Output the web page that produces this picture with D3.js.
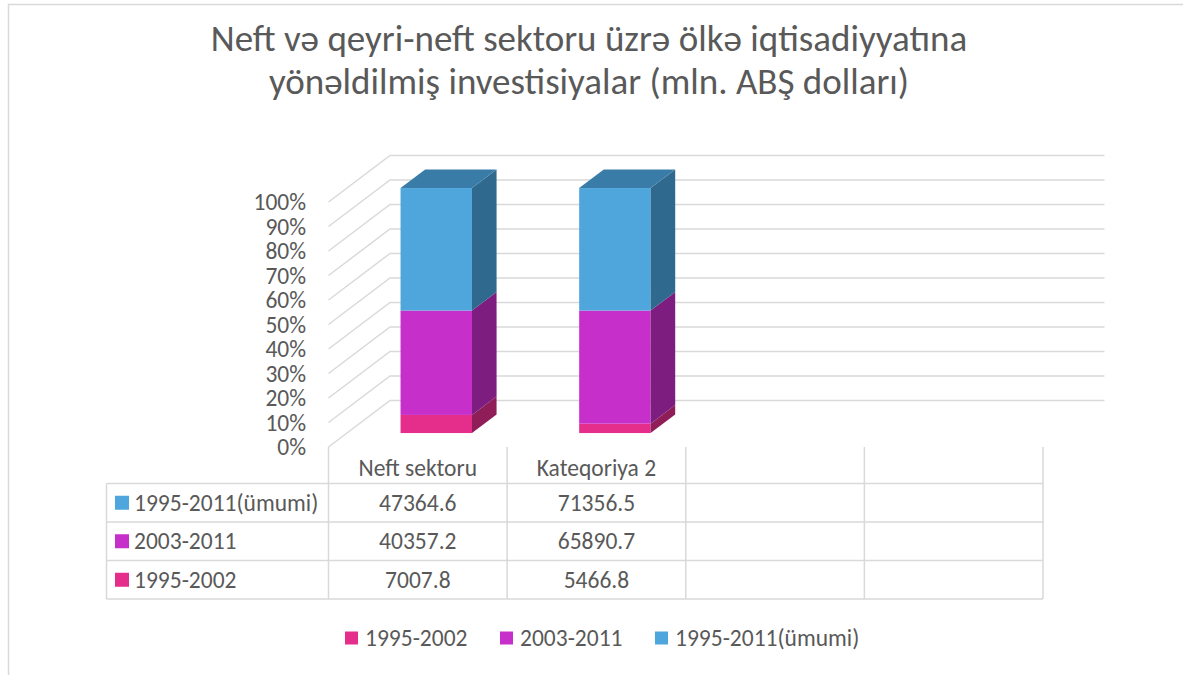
<!DOCTYPE html>
<html>
<head>
<meta charset="utf-8">
<script src="https://cdn.jsdelivr.net/npm/d3@7"></script>
<style>
  body { margin: 0; background: #fff; }
  svg { display: block; font-family: Carlito, Calibri, Lato, sans-serif; }
</style>
</head>
<body>
<svg width="1183" height="675"></svg>
<script>
var svg = d3.select("svg");

// data
var categories = ["Neft sektoru", "Kateqoriya 2", "", ""];
var seriesNames = ["1995-2002", "2003-2011", "1995-2011(ümumi)"];
var values1995_2002 = [7007.8, 5466.8];
var values2003_2011 = [40357.2, 65890.7];
var values1995_2011 = [47364.6, 71356.5];
var yTickValues = [0, 0.1, 0.2, 0.3, 0.4, 0.5, 0.6, 0.7, 0.8, 0.9, 1];

var colors = ["#e52e8c", "#c72fcb", "#4ea6dc"];
var sideColors = ["#8f1d58", "#7d1d80", "#2f6a8e"];
var topColors = ["#ad2369", "#962399", "#3a7ca8"];
var textColor = "#595959";
var lineColor = "#d9d9d9";
var fontSize = 23.5;

var rows = values1995_2002.map(function(v, i) {
    return { cat: i, a: v, b: values2003_2011[i], c: values1995_2011[i] };
});
var stack = d3.stack().keys(["a", "b", "c"]).offset(d3.stackOffsetExpand);
var stacked = stack(rows);

var x = d3.scaleBand().domain(d3.range(categories.length)).range([328.5, 1043]);
var y = d3.scaleLinear().domain([0, 1]).range([447, 202]);
var depthX = 61.5, depthY = -46.5;
function proj(px, py, z) {
    return [px + z * depthX, py + z * depthY];
}

// chart border
svg.append("rect")
    .attr("x", 8.5).attr("y", 4.5)
    .attr("width", 1200).attr("height", 700)
    .attr("fill", "none")
    .attr("stroke", lineColor)
    .attr("stroke-width", 1.5);

// title
var title = svg.append("text")
    .attr("text-anchor", "middle")
    .attr("fill", textColor)
    .attr("font-size", 37);
title.append("tspan").attr("x", 589).attr("y", 51)
    .text("Neft və qeyri-neft sektoru üzrə ölkə iqtisadiyyatına");
title.append("tspan").attr("x", 589).attr("y", 94)
    .text("yönəldilmiş investisiyalar (mln. ABŞ dolları)");

// gridlines: side wall diagonal + back wall
var x0 = x.range()[0], x1 = x.range()[1];
svg.append("g")
    .selectAll("polyline")
    .data(yTickValues)
    .enter()
    .append("polyline")
    .attr("points", function(d) {
        return [proj(x0, y(d), 0), proj(x0, y(d), 1), proj(x1, y(d), 1)]
            .map(function(p) { return p.join(","); }).join(" ");
    })
    .attr("fill", "none")
    .attr("stroke", lineColor)
    .attr("stroke-width", 1.5);

// y labels
svg.append("g")
    .selectAll("text")
    .data(yTickValues)
    .enter()
    .append("text")
    .attr("x", 306)
    .attr("y", function(d) { return y(d); })
    .attr("dy", "0.35em")
    .attr("text-anchor", "end")
    .attr("fill", textColor)
    .attr("font-size", fontSize)
    .text(d3.format(".0%"));

// bars
var barW = x.bandwidth() * 0.4;
var z0 = 0.3, z1 = 0.7;
function poly(pts) {
    return pts.map(function(p) { return p.join(","); }).join(" ");
}
var bars = svg.append("g");
rows.forEach(function(r, i) {
    var bx = x(r.cat) + (x.bandwidth() - barW) / 2;
    stacked.forEach(function(s, k) {
        var lo = y(s[i][0]), hi = y(s[i][1]);
        var fl = proj(bx, lo, z0), fh = proj(bx, hi, z0);
        // front
        bars.append("rect")
            .attr("x", fl[0]).attr("y", fh[1])
            .attr("width", barW).attr("height", fl[1] - fh[1])
            .attr("fill", colors[k]);
        // side
        bars.append("polygon")
            .attr("points", poly([
                proj(bx + barW, lo, z0), proj(bx + barW, lo, z1),
                proj(bx + barW, hi, z1), proj(bx + barW, hi, z0)
            ]))
            .attr("fill", sideColors[k]);
        if (k === stacked.length - 1) {
            bars.append("polygon")
                .attr("points", poly([
                    proj(bx, hi, z0), proj(bx + barW, hi, z0),
                    proj(bx + barW, hi, z1), proj(bx, hi, z1)
                ]))
                .attr("fill", topColors[k]);
        }
    });
});

// data table
var tableLeft = 106.5, headTop = 447;
var rowEdges = [483.5, 522, 560.5, 599];
var tableSeries = [
    { name: seriesNames[2], values: values1995_2011, color: colors[2] },
    { name: seriesNames[1], values: values2003_2011, color: colors[1] },
    { name: seriesNames[0], values: values1995_2002, color: colors[0] }
];
var table = svg.append("g");
rowEdges.forEach(function(ry) {
    table.append("line")
        .attr("x1", tableLeft).attr("x2", x1)
        .attr("y1", ry).attr("y2", ry)
        .attr("stroke", lineColor).attr("stroke-width", 1.5);
});
table.append("line")
    .attr("x1", tableLeft).attr("x2", tableLeft)
    .attr("y1", rowEdges[0]).attr("y2", rowEdges[3])
    .attr("stroke", lineColor).attr("stroke-width", 1.5);
d3.range(categories.length + 1).forEach(function(i) {
    var vx = i < categories.length ? x(i) : x1;
    table.append("line")
        .attr("x1", vx).attr("x2", vx)
        .attr("y1", headTop).attr("y2", rowEdges[3])
        .attr("stroke", lineColor).attr("stroke-width", 1.5);
});
table.selectAll("text.cat")
    .data(categories)
    .enter()
    .append("text")
    .attr("class", "cat")
    .attr("x", function(d, i) { return x(i) + x.bandwidth() / 2; })
    .attr("y", (headTop + rowEdges[0]) / 2 + 3)
    .attr("dy", "0.35em")
    .attr("text-anchor", "middle")
    .attr("fill", textColor)
    .attr("font-size", fontSize)
    .text(function(d) { return d; });

tableSeries.forEach(function(s, r) {
    var cy = (rowEdges[r] + rowEdges[r + 1]) / 2;
    table.append("rect")
        .attr("x", 115).attr("y", cy - 7)
        .attr("width", 14).attr("height", 14)
        .attr("fill", s.color);
    table.append("text")
        .attr("x", 134).attr("y", cy)
        .attr("dy", "0.35em")
        .attr("fill", textColor)
        .attr("font-size", fontSize)
        .text(s.name);
    table.selectAll(null)
        .data(s.values)
        .enter()
        .append("text")
        .attr("x", function(d, i) { return x(i) + x.bandwidth() / 2; })
        .attr("y", cy)
        .attr("dy", "0.35em")
        .attr("text-anchor", "middle")
        .attr("fill", textColor)
        .attr("font-size", fontSize)
        .text(function(d) { return d; });
});

// legend
var legendX = [345, 500, 655];
var legend = svg.append("g")
    .selectAll("g")
    .data(seriesNames)
    .enter()
    .append("g")
    .attr("transform", function(d, i) { return "translate(" + legendX[i] + ",638)"; });
legend.append("rect")
    .attr("x", 0).attr("y", -6.5)
    .attr("width", 13).attr("height", 13)
    .attr("fill", function(d, i) { return colors[i]; });
legend.append("text")
    .attr("x", 20).attr("y", 0)
    .attr("dy", "0.35em")
    .attr("fill", textColor)
    .attr("font-size", fontSize)
    .text(function(d) { return d; });
</script>
</body>
</html>
